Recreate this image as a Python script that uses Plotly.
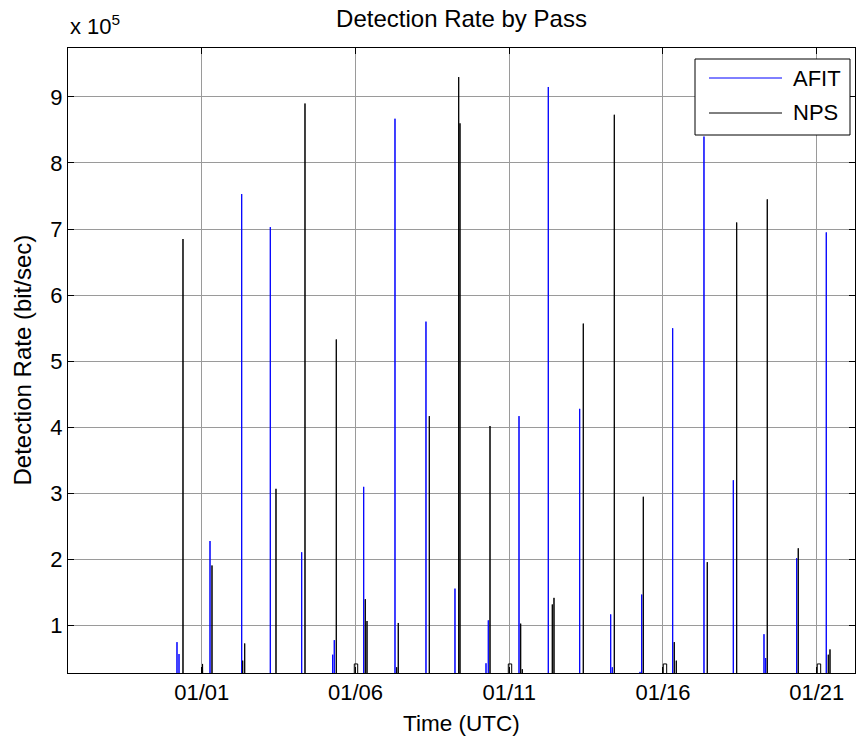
import plotly.graph_objects as go
import pandas as pd

# ---------------- data ----------------
afit_times = [
    "2013-12-31 04:43", "2013-12-31 06:17", "2014-01-01 06:29", "2014-01-02 07:13",
    "2014-01-03 05:33", "2014-01-04 06:03", "2014-01-05 06:15", "2014-01-05 07:29",
    "2014-01-06 06:26", "2014-01-07 06:52", "2014-01-08 07:03", "2014-01-09 05:41",
    "2014-01-10 05:54", "2014-01-10 07:41", "2014-01-11 07:39", "2014-01-12 06:31",
    "2014-01-13 07:02", "2014-01-14 07:13", "2014-01-14 08:28", "2014-01-15 06:06",
    "2014-01-15 07:25", "2014-01-16 07:36", "2014-01-17 08:02", "2014-01-18 06:55",
    "2014-01-19 06:52", "2014-01-19 08:11", "2014-01-20 08:24", "2014-01-21 07:29",
]
afit_rates = [
    75000, 57000, 228000, 753000,
    703000, 211000, 56000, 78000,
    310000, 867000, 560000, 156000,
    43000, 108000, 417000, 915000,
    428000, 117000, 37000, 30000,
    147000, 550000, 840000, 320000,
    87000, 51000, 202000, 695000,
]

nps_times = [
    "2013-12-31 09:24", "2014-01-01 08:02", "2014-01-02 08:00", "2014-01-02 09:34",
    "2014-01-03 09:59", "2014-01-04 08:37", "2014-01-05 09:03", "2014-01-06 07:41",
    "2014-01-06 09:01", "2014-01-07 08:11", "2014-01-07 09:26", "2014-01-08 09:39",
    "2014-01-09 08:35", "2014-01-09 09:36", "2014-01-10 09:01", "2014-01-11 08:58",
    "2014-01-11 10:13", "2014-01-12 09:39", "2014-01-12 10:58", "2014-01-13 09:50",
    "2014-01-14 10:02", "2014-01-15 08:40", "2014-01-16 08:51", "2014-01-16 10:25",
    "2014-01-17 10:36", "2014-01-18 09:33", "2014-01-19 09:26", "2014-01-20 09:37",
    "2014-01-21 09:03", "2014-01-21 10:23",
]
nps_rates = [
    685000, 191000, 47000, 73000,
    307000, 890000, 533000, 140000,
    107000, 37000, 104000, 417000,
    930000, 860000, 402000, 103000,
    34000, 132000, 142000, 557000,
    873000, 295000, 75000, 47000,
    196000, 710000, 745000, 217000,
    56000, 64000,
]
# short low-level NPS plateaus around midnight
nps_step_start = ["2014-01-01 00:40", "2014-01-05 23:06", "2014-01-10 23:18",
                  "2014-01-16 00:16", "2014-01-21 00:27"]
nps_step_end = ["2014-01-01 00:55", "2014-01-06 01:45", "2014-01-11 01:57",
                "2014-01-16 02:55", "2014-01-21 03:07"]
nps_step_rate = [42000, 42000, 42000, 42000, 42000]

series_names = ["AFIT", "NPS"]
series_colors = ["#0000ff", "#000000"]

x_tick_values = ["2014-01-01", "2014-01-06", "2014-01-11", "2014-01-16", "2014-01-21"]
x_tick_labels = ["01/01", "01/06", "01/11", "01/16", "01/21"]
y_tick_values = [100000, 200000, 300000, 400000, 500000, 600000, 700000, 800000, 900000]
y_tick_labels = ["1", "2", "3", "4", "5", "6", "7", "8", "9"]

x_range = ["2013-12-27 15:39", "2014-01-22 05:54"]
y_range = [28300, 974000]


# ---------------- build spike lines ----------------
def spike_points(times, rates, s_start=None, s_end=None, s_rate=None):
    pts = []
    for t, r in zip(times, rates):
        ts = pd.Timestamp(t)
        pts += [(ts, 0), (ts, r), (ts, 0)]
    if s_start:
        for a, b, r in zip(s_start, s_end, s_rate):
            ta, tb = pd.Timestamp(a), pd.Timestamp(b)
            pts += [(ta, 0), (ta, r), (tb, r), (tb, 0)]
    pts.sort(key=lambda p: p[0])
    return [p[0] for p in pts], [p[1] for p in pts]


ax, ay = spike_points(afit_times, afit_rates)
nx, ny = spike_points(nps_times, nps_rates, nps_step_start, nps_step_end, nps_step_rate)

FONT = "Liberation Sans, Arial, Helvetica, sans-serif"

fig = go.Figure()
fig.add_trace(go.Scatter(x=ax, y=ay, mode="lines", name=series_names[0],
                         line=dict(color=series_colors[0], width=1), showlegend=False))
fig.add_trace(go.Scatter(x=nx, y=ny, mode="lines", name=series_names[1],
                         line=dict(color=series_colors[1], width=1), showlegend=False))

fig.update_layout(
    width=857, height=740,
    margin=dict(l=68, r=2, t=48, b=67),
    paper_bgcolor="white", plot_bgcolor="white",
    font=dict(family=FONT, size=22, color="black"),
    title=dict(text="Detection Rate by Pass", x=0.5, xref="paper", xanchor="center",
               y=1 - 18.5 / 740, yref="container", yanchor="middle",
               font=dict(size=24, color="black", family=FONT)),
    showlegend=False,
)

fig.update_xaxes(
    type="date", range=x_range,
    tickmode="array", tickvals=x_tick_values, ticktext=x_tick_labels,
    ticks="inside", ticklen=6, tickcolor="black",
    showline=True, linecolor="black", linewidth=1, mirror="ticks",
    showgrid=True, gridcolor="#9a9a9a", gridwidth=1, zeroline=False,
    tickfont=dict(size=22, family=FONT, color="black"),
)
fig.update_yaxes(
    range=y_range,
    tickmode="array", tickvals=y_tick_values, ticktext=y_tick_labels,
    ticks="inside", ticklen=6, tickcolor="black",
    showline=True, linecolor="black", linewidth=1, mirror="ticks",
    showgrid=True, gridcolor="#9a9a9a", gridwidth=1, zeroline=False,
    tickfont=dict(size=22, family=FONT, color="black"),
)


def px(xp):
    return (xp - 68) / 787


def py(yp):
    return (673 - yp) / 625


# axis titles as annotations
fig.add_annotation(text="Time (UTC)", xref="paper", yref="paper", x=0.5, y=py(723),
                   xanchor="center", yanchor="middle", showarrow=False,
                   font=dict(size=22.5, family=FONT, color="black"))
fig.add_annotation(text="Detection Rate (bit/sec)", xref="paper", yref="paper",
                   x=px(22), y=0.5, textangle=-90,
                   xanchor="center", yanchor="middle", showarrow=False,
                   font=dict(size=24, family=FONT, color="black"))
# exponent label
fig.add_annotation(text="x 10<sup>5</sup>", xref="paper", yref="paper", x=0, y=py(25),
                   xanchor="left", yanchor="middle", showarrow=False,
                   font=dict(size=22, family=FONT, color="black"))

# manual legend
fig.add_shape(type="rect", xref="paper", yref="paper",
              x0=px(695), x1=px(850), y0=py(135), y1=py(59),
              line=dict(color="black", width=1), fillcolor="white", layer="above")
for i, (nm, col) in enumerate(zip(series_names, series_colors)):
    yy = 78 + i * 35
    fig.add_shape(type="line", xref="paper", yref="paper",
                  x0=px(709), x1=px(782), y0=py(yy), y1=py(yy),
                  line=dict(color=col, width=1), layer="above")
    fig.add_annotation(text=nm, xref="paper", yref="paper", x=px(791), y=py(yy),
                       xanchor="left", yanchor="middle", showarrow=False,
                       font=dict(size=22, family=FONT, color="black"))

fig.write_html("out.html")
